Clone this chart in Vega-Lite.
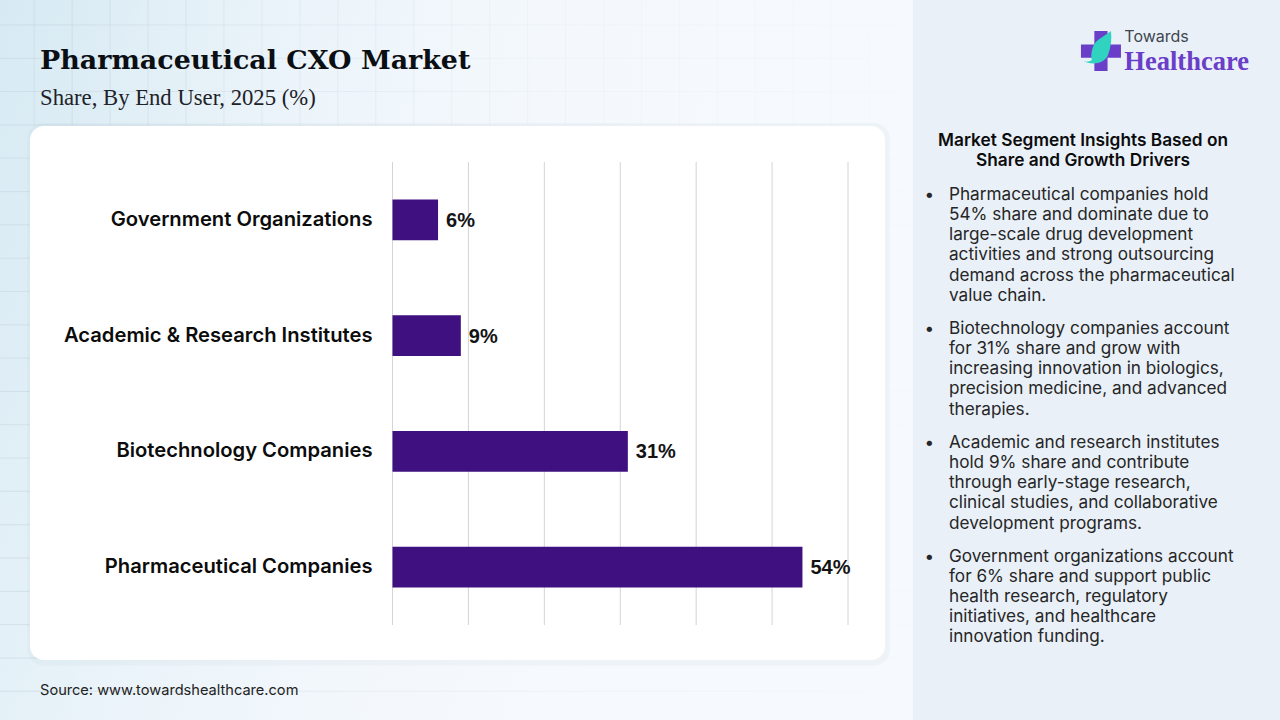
{
  "$schema": "https://vega.github.io/schema/vega-lite/v6.json",
  "width": 455.5,
  "height": 463,
  "autosize": "none",
  "padding": {"left": 392.5, "top": 162, "right": 432, "bottom": 95},
  "background": "#eef5fa",
  "config": {"view": {"stroke": null}},
  "datasets": {
    "one": [{}],
    "shares": [
      {"user": "Government Organizations", "share": 6, "label": "6%"},
      {"user": "Academic & Research Institutes", "share": 9, "label": "9%"},
      {"user": "Biotechnology Companies", "share": 31, "label": "31%"},
      {"user": "Pharmaceutical Companies", "share": 54, "label": "54%"}
    ],
    "ticks": [{"v": 0}, {"v": 10}, {"v": 20}, {"v": 30}, {"v": 40}, {"v": 50}, {"v": 60}],
    "backdropV": [
      {"v": -47.2}, {"v": -42.2}, {"v": -37.2}, {"v": -32.2}, {"v": -27.2}, {"v": -22.2},
      {"v": -17.2}, {"v": -12.2}, {"v": -7.2}, {"v": -2.2}, {"v": 2.8}, {"v": 7.8}, {"v": 12.8},
      {"v": 17.8}, {"v": 22.8}, {"v": 27.8}, {"v": 32.8}, {"v": 37.8}, {"v": 42.8}, {"v": 47.8}, {"v": 52.8}, {"v": 57.8}, {"v": 62.8}
    ],
    "backdropH": [
      {"h": -5.72}, {"h": -4.06}, {"h": -2.41}, {"h": -0.75}, {"h": 0.9},
      {"h": 2.56}, {"h": 4.21}, {"h": 5.87}, {"h": 7.52}, {"h": 9.18},
      {"h": 10.83}, {"h": 12.49}, {"h": 14.14}, {"h": 15.8}, {"h": 17.45},
      {"h": 19.11}, {"h": 20.76}, {"h": 22.42}, {"h": 24.07}, {"h": 25.73}, {"h": 27.38}
    ],
    "notes": [
      {"kind": "head", "line": 0, "text": "Market Segment Insights Based on"},
      {"kind": "head", "line": 1, "text": "Share and Growth Drivers"},
      {"kind": "bullet", "line": 2.68, "text": "•"},
      {"kind": "body", "line": 2.68, "text": "Pharmaceutical companies hold"},
      {"kind": "body", "line": 3.68, "text": "54% share and dominate due to"},
      {"kind": "body", "line": 4.68, "text": "large-scale drug development"},
      {"kind": "body", "line": 5.68, "text": "activities and strong outsourcing"},
      {"kind": "body", "line": 6.68, "text": "demand across the pharmaceutical"},
      {"kind": "body", "line": 7.68, "text": "value chain."},
      {"kind": "bullet", "line": 9.34, "text": "•"},
      {"kind": "body", "line": 9.34, "text": "Biotechnology companies account"},
      {"kind": "body", "line": 10.34, "text": "for 31% share and grow with"},
      {"kind": "body", "line": 11.34, "text": "increasing innovation in biologics,"},
      {"kind": "body", "line": 12.34, "text": "precision medicine, and advanced"},
      {"kind": "body", "line": 13.34, "text": "therapies."},
      {"kind": "bullet", "line": 15, "text": "•"},
      {"kind": "body", "line": 15, "text": "Academic and research institutes"},
      {"kind": "body", "line": 16, "text": "hold 9% share and contribute"},
      {"kind": "body", "line": 17, "text": "through early-stage research,"},
      {"kind": "body", "line": 18, "text": "clinical studies, and collaborative"},
      {"kind": "body", "line": 19, "text": "development programs."},
      {"kind": "bullet", "line": 20.66, "text": "•"},
      {"kind": "body", "line": 20.66, "text": "Government organizations account"},
      {"kind": "body", "line": 21.66, "text": "for 6% share and support public"},
      {"kind": "body", "line": 22.66, "text": "health research, regulatory"},
      {"kind": "body", "line": 23.66, "text": "initiatives, and healthcare"},
      {"kind": "body", "line": 24.66, "text": "innovation funding."}
    ]
  },
  "resolve": {"scale": {"y": "independent"}},
  "layer": [
    {
      "data": {"name": "one"},
      "mark": {
        "type": "rect",
        "fill": {
          "gradient": "linear", "x1": 0, "y1": 0, "x2": 1, "y2": 0.25,
          "stops": [
            {"offset": 0, "color": "#d7eaf3"},
            {"offset": 0.3, "color": "#e9f3f9"},
            {"offset": 0.65, "color": "#f6f9fd"},
            {"offset": 1, "color": "#f6f9fd"}
          ]
        }
      },
      "encoding": {
        "x": {"datum": -51.7, "type": "quantitative", "scale": {"domain": [0, 60], "nice": false}, "axis": null},
        "x2": {"datum": 116.9},
        "y": {"datum": -6.96, "type": "quantitative", "scale": {"domain": [1.09, 24.09], "reverse": true, "zero": false, "nice": false}, "axis": null},
        "y2": {"datum": 28.81}
      }
    },
    {
      "data": {"name": "backdropV"},
      "mark": {"type": "rule", "stroke": "#c4d6e0", "strokeWidth": 1, "opacity": 0.55},
      "encoding": {
        "x": {"field": "v", "type": "quantitative", "axis": null},
        "y": {"datum": -6.96, "type": "quantitative", "scale": {"domain": [1.09, 24.09], "reverse": true, "zero": false, "nice": false}, "axis": null},
        "y2": {"datum": -0.7}
      }
    },
    {
      "data": {"name": "backdropH"},
      "mark": {"type": "rule", "stroke": "#c4d6e0", "strokeWidth": 1, "opacity": 0.55},
      "encoding": {
        "x": {"datum": -51.7, "type": "quantitative", "axis": null},
        "x2": {"datum": 68.56},
        "y": {"field": "h", "type": "quantitative", "scale": {"domain": [1.09, 24.09], "reverse": true, "zero": false, "nice": false}, "axis": null}
      }
    },
    {
      "data": {"name": "one"},
      "mark": {
        "type": "rect",
        "fill": {
          "gradient": "linear", "x1": 0, "y1": 0, "x2": 1, "y2": 0,
          "stops": [
            {"offset": 0, "color": "rgba(246,249,253,0)"},
            {"offset": 0.6, "color": "rgba(246,249,253,0.75)"},
            {"offset": 1, "color": "rgba(246,249,253,0.95)"}
          ]
        }
      },
      "encoding": {
        "x": {"datum": -43.8, "type": "quantitative", "axis": null},
        "x2": {"datum": 68.56},
        "y": {"datum": -6.96, "type": "quantitative", "scale": {"domain": [1.09, 24.09], "reverse": true, "zero": false, "nice": false}, "axis": null},
        "y2": {"datum": 28.81}
      }
    },
    {
      "data": {"name": "one"},
      "mark": {"type": "rect", "fill": "#e9f0f8"},
      "encoding": {
        "x": {"datum": 68.56, "type": "quantitative", "axis": null},
        "x2": {"datum": 116.9},
        "y": {"datum": -6.96, "type": "quantitative", "scale": {"domain": [1.09, 24.09], "reverse": true, "zero": false, "nice": false}, "axis": null},
        "y2": {"datum": 28.81}
      }
    },
    {
      "data": {"name": "one"},
      "mark": {"type": "rect", "fill": "#9fb3c4", "opacity": 0.08, "cornerRadius": 16},
      "encoding": {
        "x": {"datum": -48.1, "type": "quantitative", "axis": null},
        "x2": {"datum": 65.5},
        "y": {"datum": -0.85, "type": "quantitative", "scale": {"domain": [1.09, 24.09], "reverse": true, "zero": false, "nice": false}, "axis": null},
        "y2": {"datum": 26.1}
      }
    },
    {
      "data": {"name": "one"},
      "mark": {"type": "rect", "fill": "#ffffff", "cornerRadius": 14},
      "encoding": {
        "x": {"datum": -47.75, "type": "quantitative", "axis": null},
        "x2": {"datum": 64.87},
        "y": {"datum": -0.7, "type": "quantitative", "scale": {"domain": [1.09, 24.09], "reverse": true, "zero": false, "nice": false}, "axis": null},
        "y2": {"datum": 25.83}
      }
    },
    {
      "data": {"name": "ticks"},
      "mark": {"type": "rule", "stroke": "#d4d4d4", "strokeWidth": 1},
      "encoding": {
        "x": {"field": "v", "type": "quantitative", "axis": null}
      }
    },
    {
      "data": {"name": "shares"},
      "mark": {"type": "bar", "color": "#3e1080"},
      "encoding": {
        "x": {"field": "share", "type": "quantitative", "axis": null},
        "y": {
          "field": "user",
          "type": "nominal",
          "sort": null,
          "scale": {"paddingInner": 0.646, "paddingOuter": 0.323},
          "axis": {
            "title": null,
            "domain": false,
            "ticks": false,
            "grid": false,
            "zindex": 1,
            "labelPadding": 20.5,
            "labelLimit": 400,
            "labelFont": "Inter",
            "labelFontSize": 20.2,
            "labelFontWeight": 600,
            "labelColor": "#0c0c0c"
          }
        }
      }
    },
    {
      "data": {"name": "shares"},
      "mark": {"type": "text", "align": "left", "baseline": "middle", "dx": 8, "dy": 1, "font": "Liberation Sans", "fontSize": 20, "fontWeight": "bold", "color": "#141414"},
      "encoding": {
        "x": {"field": "share", "type": "quantitative", "axis": null},
        "y": {"field": "user", "type": "nominal", "sort": null, "scale": {"paddingInner": 0.646, "paddingOuter": 0.323}, "axis": null},
        "text": {"field": "label", "type": "nominal"}
      }
    },
    {
      "data": {"name": "notes"},
      "transform": [{"filter": "datum.kind === 'head'"}],
      "mark": {"type": "text", "align": "center", "baseline": "middle", "dy": 1, "font": "Inter", "fontSize": 17.3, "fontWeight": 600, "color": "#0c0c0c"},
      "encoding": {
        "x": {"datum": 90.96, "type": "quantitative", "axis": null},
        "y": {"field": "line", "type": "quantitative", "scale": {"domain": [1.09, 24.09], "reverse": true, "zero": false, "nice": false}, "axis": null},
        "text": {"field": "text", "type": "nominal"}
      }
    },
    {
      "data": {"name": "notes"},
      "transform": [{"filter": "datum.kind === 'body'"}],
      "mark": {"type": "text", "align": "left", "baseline": "middle", "dy": 1, "font": "Inter", "fontSize": 17.2, "color": "#262626"},
      "encoding": {
        "x": {"datum": 73.3, "type": "quantitative", "axis": null},
        "y": {"field": "line", "type": "quantitative", "scale": {"domain": [1.09, 24.09], "reverse": true, "zero": false, "nice": false}, "axis": null},
        "text": {"field": "text", "type": "nominal"}
      }
    },
    {
      "data": {"name": "notes"},
      "transform": [{"filter": "datum.kind === 'bullet'"}],
      "mark": {"type": "text", "align": "center", "baseline": "middle", "dy": 1, "font": "Inter", "fontSize": 17.2, "color": "#262626"},
      "encoding": {
        "x": {"datum": 70.7, "type": "quantitative", "axis": null},
        "y": {"field": "line", "type": "quantitative", "scale": {"domain": [1.09, 24.09], "reverse": true, "zero": false, "nice": false}, "axis": null},
        "text": {"field": "text", "type": "nominal"}
      }
    },
    {
      "data": {"name": "one"},
      "mark": {"type": "text", "text": "Pharmaceutical CXO Market", "align": "left", "baseline": "middle", "font": "DejaVu Serif", "fontSize": 26.9, "fontWeight": "bold", "color": "#0b0f14"},
      "encoding": {
        "x": {"datum": -46.43, "type": "quantitative", "axis": null},
        "y": {"datum": -3.93, "type": "quantitative", "scale": {"domain": [1.09, 24.09], "reverse": true, "zero": false, "nice": false}, "axis": null}
      }
    },
    {
      "data": {"name": "one"},
      "mark": {"type": "text", "text": "Share, By End User, 2025 (%)", "align": "left", "baseline": "middle", "font": "Liberation Serif", "fontSize": 22.7, "color": "#1c2228"},
      "encoding": {
        "x": {"datum": -46.43, "type": "quantitative", "axis": null},
        "y": {"datum": -2.09, "type": "quantitative", "scale": {"domain": [1.09, 24.09], "reverse": true, "zero": false, "nice": false}, "axis": null}
      }
    },
    {
      "data": {"name": "one"},
      "mark": {"type": "text", "text": "Source: www.towardshealthcare.com", "align": "left", "baseline": "middle", "font": "Inter", "fontSize": 14.6, "color": "#222222"},
      "encoding": {
        "x": {"datum": -46.43, "type": "quantitative", "axis": null},
        "y": {"datum": 27.37, "type": "quantitative", "scale": {"domain": [1.09, 24.09], "reverse": true, "zero": false, "nice": false}, "axis": null}
      }
    },
    {
      "data": {"name": "one"},
      "mark": {"type": "point", "filled": true, "opacity": 1, "size": 1600, "color": "#6a3ec8", "shape": "M-0.33,-1H0.33V-0.33H1V0.33H0.33V1H-0.33V0.33H-1V-0.33H-0.33Z"},
      "encoding": {
        "x": {"datum": 93.32, "type": "quantitative", "axis": null},
        "y": {"datum": -4.42, "type": "quantitative", "scale": {"domain": [1.09, 24.09], "reverse": true, "zero": false, "nice": false}, "axis": null}
      }
    },
    {
      "data": {"name": "one"},
      "mark": {"type": "point", "filled": true, "opacity": 1, "size": 1600, "color": "#2fd3bf", "shape": "M-0.9,0.5C-0.4,0.75,0.2,0.6,0.35,0.2C0.5,-0.2,0.55,-0.6,0.5,-1C0.2,-0.75,-0.25,-0.6,-0.4,-0.2C-0.5,0.1,-0.5,0.35,-0.45,0.45C-0.6,0.55,-0.75,0.55,-0.9,0.5Z"},
      "encoding": {
        "x": {"datum": 93.32, "type": "quantitative", "axis": null},
        "y": {"datum": -4.42, "type": "quantitative", "scale": {"domain": [1.09, 24.09], "reverse": true, "zero": false, "nice": false}, "axis": null}
      }
    },
    {
      "data": {"name": "one"},
      "mark": {"type": "text", "text": "Towards", "align": "left", "baseline": "middle", "font": "Inter", "fontSize": 16, "color": "#3f4650"},
      "encoding": {
        "x": {"datum": 96.4, "type": "quantitative", "axis": null},
        "y": {"datum": -5.11, "type": "quantitative", "scale": {"domain": [1.09, 24.09], "reverse": true, "zero": false, "nice": false}, "axis": null}
      }
    },
    {
      "data": {"name": "one"},
      "mark": {"type": "text", "text": "Healthcare", "align": "left", "baseline": "middle", "font": "Liberation Serif", "fontSize": 26.5, "fontWeight": "bold", "color": "#6a3ec8"},
      "encoding": {
        "x": {"datum": 96.4, "type": "quantitative", "axis": null},
        "y": {"datum": -3.87, "type": "quantitative", "scale": {"domain": [1.09, 24.09], "reverse": true, "zero": false, "nice": false}, "axis": null}
      }
    }
  ]
}
